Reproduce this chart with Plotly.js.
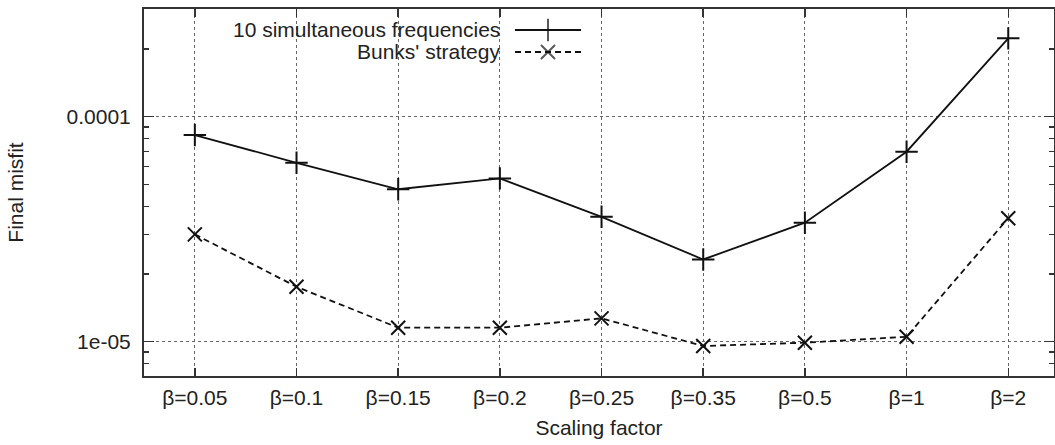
<!DOCTYPE html>
<html>
<head>
<meta charset="utf-8">
<script src="https://cdn.plot.ly/plotly-3.0.1.min.js"></script>
<style>html,body{margin:0;padding:0;background:#fff;}#chart{width:1055px;height:445px;}</style>
</head>
<body>
<div id="chart"></div>
<script>
const categories = ["β=0.05","β=0.1","β=0.15","β=0.2","β=0.25","β=0.35","β=0.5","β=1","β=2"];
const simultaneous = [8.29e-5, 6.24e-5, 4.76e-5, 5.32e-5, 3.59e-5, 2.32e-5, 3.38e-5, 6.99e-5, 2.23e-4];
const bunks = [3.00e-5, 1.755e-5, 1.154e-5, 1.154e-5, 1.27e-5, 9.57e-6, 9.90e-6, 1.052e-5, 3.54e-5];
const seriesNames = ["10 simultaneous frequencies", "Bunks' strategy"];
const yTickVals = [1e-5, 1e-4];
const yTickText = ["1e-05", "0.0001"];

const W = 1055, H = 445;
const L = 144, T = 9, B = 69, R = 1;
const pw = W - L - R, ph = H - T - B;
const px = v => (v - L) / pw;
const py = v => (H - B - v) / ph;

const FONT = "Liberation Sans, Arial, Helvetica, sans-serif";
const FS = 21;
const INK = '#111';
const idx = categories.map((_, i) => i);

const plusMarker = {symbol: 'cross-thin-open', size: 16, color: INK, line: {color: INK, width: 2}};
const xMarker = {symbol: 'x-thin-open', size: 14, color: INK, line: {color: INK, width: 2}};

const traces = [
  {
    x: idx, y: simultaneous, type: 'scatter', mode: 'lines+markers', name: seriesNames[0],
    line: {color: INK, width: 1.8}, marker: plusMarker, showlegend: false
  },
  {
    x: idx, y: bunks, type: 'scatter', mode: 'lines+markers', name: seriesNames[1],
    line: {color: INK, width: 1.8, dash: '6px,4px'}, marker: xMarker, showlegend: false
  },
  // legend samples on an overlay (paper-like) axis
  {
    x: [px(515), px(548), px(581)], y: [py(30), py(30), py(30)], xaxis: 'x2', yaxis: 'y2',
    type: 'scatter', mode: 'lines+markers', line: {color: INK, width: 1.8},
    marker: Object.assign({}, plusMarker, {size: [0, 16, 0]}), showlegend: false, hoverinfo: 'skip'
  },
  {
    x: [px(515), px(548), px(581)], y: [py(52), py(52), py(52)], xaxis: 'x2', yaxis: 'y2',
    type: 'scatter', mode: 'lines+markers', line: {color: INK, width: 1.8, dash: '6px,4px'},
    marker: Object.assign({}, xMarker, {size: [0, 14, 0]}), showlegend: false, hoverinfo: 'skip'
  }
];

const layout = {
  width: W, height: H,
  margin: {l: L, r: R, t: T, b: B},
  paper_bgcolor: '#fff', plot_bgcolor: '#fff',
  font: {family: FONT, size: FS, color: '#222'},
  showlegend: false,
  xaxis: {
    type: 'linear', range: [-0.5, 8.45],
    tickmode: 'array', tickvals: idx, ticktext: categories,
    ticks: 'inside', ticklen: 8, tickwidth: 1.5, tickcolor: '#333',
    showline: true, linecolor: '#333', linewidth: 2, mirror: 'ticks',
    showgrid: true, gridcolor: '#666', griddash: 'dot', gridwidth: 1,
    zeroline: false, ticklabelstandoff: 2,
    tickfont: {family: FONT, size: FS, color: '#222'},
    title: {text: 'Scaling factor', font: {size: FS, family: FONT, color: '#222'}, standoff: 12}
  },
  yaxis: {
    type: 'log', range: [-5.1524, -3.5213],
    tickmode: 'array', tickvals: yTickVals, ticktext: yTickText,
    ticks: 'inside', ticklen: 10, tickwidth: 1.5, tickcolor: '#333',
    minor: {ticks: 'inside', ticklen: 5, tickwidth: 1.5, tickcolor: '#333', dtick: 'D1', showgrid: false},
    showline: true, linecolor: '#333', linewidth: 2, mirror: 'ticks',
    showgrid: true, gridcolor: '#666', griddash: 'dot', gridwidth: 1,
    zeroline: false, ticklabelstandoff: 7,
    tickfont: {family: FONT, size: FS, color: '#222'},
    title: {text: 'Final misfit', font: {size: FS, family: FONT, color: '#222'}, standoff: 37}
  },
  xaxis2: {overlaying: 'x', range: [0, 1], visible: false, fixedrange: true},
  yaxis2: {overlaying: 'y', range: [0, 1], visible: false, fixedrange: true},
  shapes: [
    {type: 'rect', xref: 'paper', yref: 'paper', x0: px(180), x1: px(590), y0: py(62), y1: py(11),
     fillcolor: '#fff', line: {width: 0}, layer: 'between'}
  ],
  annotations: [
    {xref: 'paper', yref: 'paper', x: px(502), y: py(30), xanchor: 'right', yanchor: 'middle',
     text: seriesNames[0], showarrow: false, font: {family: FONT, size: FS, color: '#222'}},
    {xref: 'paper', yref: 'paper', x: px(502), y: py(52), xanchor: 'right', yanchor: 'middle',
     text: seriesNames[1], showarrow: false, font: {family: FONT, size: FS, color: '#222'}}
  ]
};

Plotly.newPlot('chart', traces, layout, {staticPlot: true, displayModeBar: false});
</script>
</body>
</html>
